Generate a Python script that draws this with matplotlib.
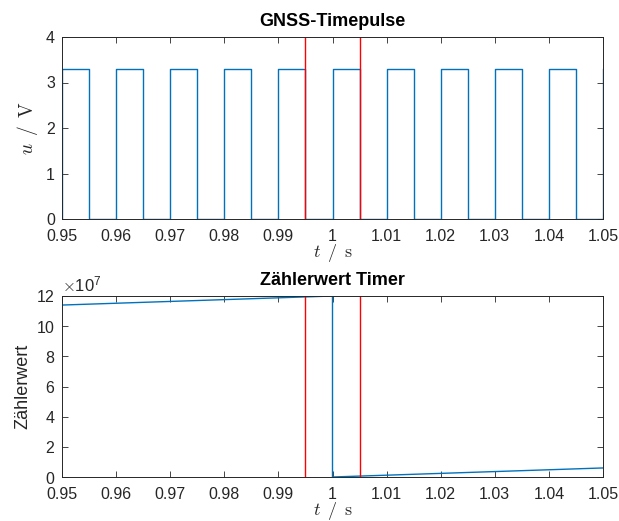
import matplotlib
matplotlib.use("Agg")
import matplotlib.pyplot as plt
from matplotlib.ticker import ScalarFormatter

plt.rcParams["font.family"] = ["Liberation Sans", "DejaVu Sans"]
plt.rcParams["mathtext.fontset"] = "cm"

# Timepulse signal: switching instants and voltage level after each instant
t_pulse = [0.950, 0.950, 0.955, 0.960, 0.965, 0.970, 0.975, 0.980, 0.985, 0.990,
           0.995, 1.000, 1.005, 1.010, 1.015, 1.020, 1.025, 1.030, 1.035, 1.040,
           1.045, 1.050]
u_pulse = [0.0, 3.3, 0.0, 3.3, 0.0, 3.3, 0.0, 3.3, 0.0, 3.3,
           0.0, 3.3, 0.0, 3.3, 0.0, 3.3, 0.0, 3.3, 0.0, 3.3,
           0.0, 3.3]

# Timer counter value (wraps around at t = 1 s)
t_counter = [0.95, 1.00, 1.00, 1.05]
counter = [1.14e8, 1.20e8, 0.0, 0.06e8]

# Marker lines
t_markers = [0.995, 1.005]

x_ticks = [0.95, 0.96, 0.97, 0.98, 0.99, 1.00, 1.01, 1.02, 1.03, 1.04, 1.05]
x_labels = ["0.95", "0.96", "0.97", "0.98", "0.99", "1", "1.01", "1.02", "1.03", "1.04", "1.05"]
u_ticks = [0, 1, 2, 3, 4]
c_ticks = [0, 2e7, 4e7, 6e7, 8e7, 10e7, 12e7]

blue = "#0072BD"
axis_col = "#262626"
W, H = 619, 521

fig = plt.figure(figsize=(W / 100, H / 100), dpi=100)
left, right = 62, 603
ax1 = fig.add_axes([left / W, 1 - 219 / H, (right - left) / W, (219 - 37) / H])
ax2 = fig.add_axes([left / W, 1 - 477 / H, (right - left) / W, (477 - 296) / H])


def style(ax):
    ax.set_xlim(0.95, 1.05)
    ax.set_xticks(x_ticks)
    ax.set_xticklabels(x_labels)
    ax.tick_params(direction="in", length=4, width=0.6, top=True, right=True,
                   labelsize=11.5, colors=axis_col)
    ax.tick_params(axis="x", pad=7)
    ax.tick_params(axis="y", pad=5)
    for s in ax.spines.values():
        s.set_color(axis_col)
        s.set_linewidth(0.7)
    ax.set_xlabel(r"$t\ \,/\ \,\mathrm{s}$", fontsize=13, color=axis_col, labelpad=-1)


ax1.plot(t_pulse, u_pulse, drawstyle="steps-post", color=blue, lw=1.0)
for tm in t_markers:
    ax1.axvline(tm, color="red", lw=1.0)
ax1.set_ylim(0, 4)
ax1.set_yticks(u_ticks)
style(ax1)
ax1.set_ylabel(r"$u\ \,/\ \,\mathrm{V}$", fontsize=14, color=axis_col, labelpad=4)
ax1.set_title("GNSS-Timepulse", fontsize=13, fontweight="bold", pad=8)

ax2.plot(t_counter, counter, color=blue, lw=1.0)
for tm in t_markers:
    ax2.axvline(tm, color="red", lw=1.0)
ax2.set_ylim(0, 1.2e8)
ax2.set_yticks(c_ticks)
fmt = ScalarFormatter(useMathText=True)
fmt.set_powerlimits((7, 7))
ax2.yaxis.set_major_formatter(fmt)
style(ax2)
ax2.yaxis.get_offset_text().set_fontsize(12)
ax2.yaxis.get_offset_text().set_color(axis_col)
ax2.set_ylabel("Zählerwert", fontsize=13, color=axis_col, labelpad=3)
ax2.set_title("Zählerwert Timer", fontsize=13, fontweight="bold", pad=8)

fig.savefig("out.png", dpi=100)
